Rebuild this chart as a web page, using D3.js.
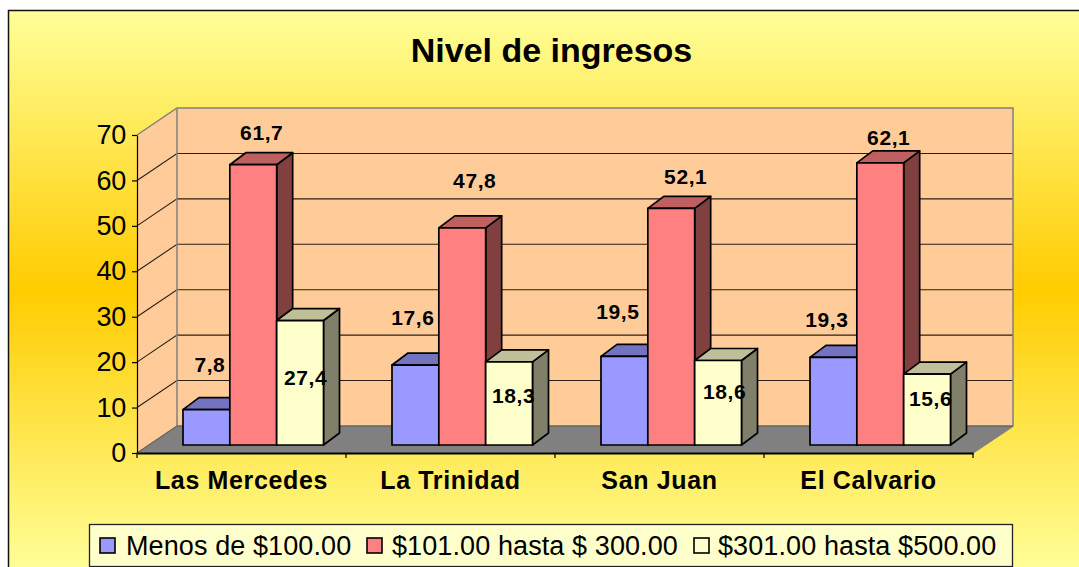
<!DOCTYPE html>
<html><head><meta charset="utf-8">
<script src="https://cdn.jsdelivr.net/npm/d3@7"></script>
<style>
html,body{margin:0;padding:0;background:#fff;overflow:hidden}
svg{display:block}
text{font-family:"Liberation Sans",Arial,sans-serif;fill:#000}
</style></head><body>
<svg id="c" width="1079" height="567"></svg>
<script>
const chartTitle = "Nivel de ingresos";
const categories = ["Las Mercedes","La Trinidad","San Juan","El Calvario"];
const seriesNames = ["Menos de $100.00","$101.00 hasta $ 300.00","$301.00 hasta $500.00"];
const menos100 = [7.8,17.6,19.5,19.3];
const hasta300 = [61.7,47.8,52.1,62.1];
const hasta500 = [27.4,18.3,18.6,15.6];
const yTicks = [0,10,20,30,40,50,60,70];

// layout & style, separate from the data
const faceColors = ["#9999FF","#FF8080","#FFFFCC"];
const topColors  = ["#7373BF","#BF6060","#BFBF99"];
const sideColors = ["#5C5C99","#804040","#80806A"];
// hand-placed data labels in the source: [dx,dy] from the top centre of each bar's front face
const labelNudge = [
  [[3.5,-45.6],[-2.5,-48],[-6.5,-45],[-6.5,-38]],
  [[8.5,-32.7],[12.5,-47],[14.5,-32],[8.5,-25]],
  [[5.5,56.5],[4.5,34],[6.5,30.5],[3.5,24]]
];
const depthX = 40, depthY = 27, barDepthX = 16, barDepthY = 12, barShiftX = 12, barShiftY = 8;
const legendSwatchX = [100,367,694], legendTextX = [126,392,718];

const svg = d3.select("#c");
const defs = svg.append("defs");
const grad = defs.append("linearGradient").attr("id","bg").attr("x1",0).attr("y1",0).attr("x2",0).attr("y2",1);
grad.append("stop").attr("offset","0").attr("stop-color","#FFFF99");
grad.append("stop").attr("offset","0.5").attr("stop-color","#FFCC00");
grad.append("stop").attr("offset","1").attr("stop-color","#FFFF99");

svg.append("rect").attr("x",8.5).attr("y",10.5).attr("width",1090).attr("height",560)
  .attr("fill","url(#bg)").attr("stroke","#111").attr("stroke-width",1.5);

svg.append("text").attr("x",551.5).attr("y",62).attr("text-anchor","middle")
  .style("font-size","34px").style("font-weight","bold").text(chartTitle);

const y = d3.scaleLinear().domain([0,70]).range([453,135]);
const x = d3.scaleBand().domain(categories).range([137,973]);
const xs = d3.scaleBand().domain(d3.range(3)).range([34,174.5]);
const pts = a => a.map(p=>p.join(",")).join(" ");
const x0 = x.range()[0], x1 = x.range()[1];

// walls and floor
svg.append("polygon").attr("points",pts([[x0,y(70)],[x0+depthX,y(70)-depthY],[x0+depthX,y(0)-depthY],[x0,y(0)]])).attr("fill","#FFCC99");
svg.append("polygon").attr("points",pts([[x0+depthX,y(70)-depthY],[x1+depthX,y(70)-depthY],[x1+depthX,y(0)-depthY],[x0+depthX,y(0)-depthY]])).attr("fill","#FFCC99");
svg.append("polygon").attr("points",pts([[x0,y(0)],[x0+depthX,y(0)-depthY],[x1+depthX,y(0)-depthY],[x1,y(0)]])).attr("fill","#808080");

// gridlines
yTicks.filter(t=>t>0&&t<70).forEach(t=>{
  svg.append("polyline").attr("fill","none").attr("stroke","#2b2015").attr("stroke-width",1.1)
    .attr("points",pts([[x0,y(t)],[x0+depthX,y(t)-depthY],[x1+depthX,y(t)-depthY]]));
});
svg.append("polyline").attr("fill","none").attr("stroke","#808080").attr("stroke-width",1.5)
  .attr("points",pts([[x0,y(70)],[x0+depthX,y(70)-depthY],[x1+depthX,y(70)-depthY],[x1+depthX,y(0)-depthY],[x1,y(0)]]));
svg.append("line").attr("stroke","#808080").attr("stroke-width",1.5)
  .attr("x1",x0+depthX).attr("x2",x0+depthX).attr("y1",y(70)-depthY).attr("y2",y(0)-depthY);
svg.append("line").attr("stroke","#666").attr("stroke-width",1.5)
  .attr("x1",x0).attr("x2",x0+depthX).attr("y1",y(0)).attr("y2",y(0)-depthY);
svg.append("line").attr("stroke","#666").attr("stroke-width",1.5)
  .attr("x1",x0+depthX).attr("x2",x1+depthX).attr("y1",y(0)-depthY).attr("y2",y(0)-depthY);

// bars
const allSeries = [menos100,hasta300,hasta500];
categories.forEach((c,i)=>{
  allSeries.forEach((vals,s)=>{
    const v = vals[i];
    const l = x(c)+barShiftX+xs(s), r = l+xs.bandwidth();
    const t = y(v)-barShiftY, b = y(0)-barShiftY;
    const g = svg.append("g").attr("stroke","#000").attr("stroke-width",1.7).attr("stroke-linejoin","round");
    g.append("polygon").attr("fill",sideColors[s])
      .attr("points",pts([[r,t],[r+barDepthX,t-barDepthY],[r+barDepthX,b-barDepthY],[r,b]]));
    g.append("polygon").attr("fill",topColors[s])
      .attr("points",pts([[l,t],[l+barDepthX,t-barDepthY],[r+barDepthX,t-barDepthY],[r,t]]));
    g.append("rect").attr("fill",faceColors[s]).attr("x",l).attr("y",t).attr("width",r-l).attr("height",b-t);
  });
});

// axes
const yAxis = d3.axisLeft(y).tickValues(yTicks).tickSize(5).tickSizeOuter(0).tickPadding(6);
const yG = svg.append("g").attr("transform",`translate(${x0},0)`).call(yAxis);
yG.selectAll("text").style("font-size","27px").style("letter-spacing","-0.3px");
yG.selectAll("line").attr("stroke","#000").attr("stroke-width",1.2);
yG.select(".domain").attr("stroke","#000").attr("stroke-width",1.2);

const xAxis = d3.axisBottom(x).tickSize(0).tickPadding(18);
const xG = svg.append("g").attr("transform",`translate(0,${y(0)})`).call(xAxis);
xG.select(".domain").attr("stroke","#000").attr("stroke-width",2);
xG.selectAll("text").style("font-size","25px").style("font-weight","bold").style("letter-spacing","0.65px");
x.domain().concat(["end"]).forEach((c,i)=>{
  const px = x0+i*x.step();
  svg.append("line").attr("x1",px).attr("x2",px).attr("y1",y(0)).attr("y2",y(0)+5).attr("stroke","#000").attr("stroke-width",1.2);
});

// data labels
allSeries.forEach((vals,s)=>{
  vals.forEach((v,i)=>{
    svg.append("text")
      .attr("x",x(categories[i])+barShiftX+xs(s)+xs.bandwidth()/2+labelNudge[s][i][0])
      .attr("y",y(v)-barShiftY+labelNudge[s][i][1]).attr("dy","0.36em")
      .attr("text-anchor","middle")
      .style("font-size","21px").style("font-weight","bold").style("letter-spacing","0.6px")
      .text(String(v).replace(".",","));
  });
});

// legend
svg.append("rect").attr("x",89.5).attr("y",524.5).attr("width",923).attr("height",42)
  .attr("fill","#FFFFCC").attr("stroke","#222").attr("stroke-width",1.3);
seriesNames.forEach((n,i)=>{
  svg.append("rect").attr("x",legendSwatchX[i]).attr("y",538).attr("width",15).attr("height",15)
    .attr("fill",faceColors[i]).attr("stroke","#000").attr("stroke-width",1.6);
  svg.append("text").attr("x",legendTextX[i]).attr("y",555)
    .style("font-size","27px").style("letter-spacing","0.1px").text(n);
});
</script>
</body></html>
